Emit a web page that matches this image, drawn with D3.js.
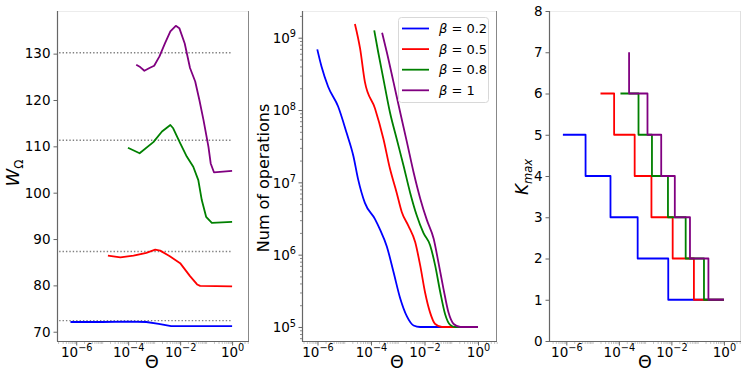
<!DOCTYPE html>
<html>
<head>
<meta charset="utf-8">
<script src="https://cdn.jsdelivr.net/npm/d3@7"></script>
<style>
body { margin: 0; background: #fff; }
text { font-family: "DejaVu Sans", sans-serif; fill: #000; }
</style>
</head>
<body>
<svg id="chart" width="748" height="385"></svg>
<script>
// series names / colours
var betaLabels = ["0.2", "0.5", "0.8", "1"];
var seriesColors = ["#0000ff", "#ff0000", "#008000", "#800080"];

// axis ticks
var thetaMajor = [1e-6, 1e-4, 1e-2, 1];
var wTicks = [70, 80, 90, 100, 110, 120, 130];
var opsMajor = [1e5, 1e6, 1e7, 1e8, 1e9];
var kTicks = [0, 1, 2, 3, 4, 5, 6, 7, 8];

// left panel: W_Omega vs Theta
var wTheta02 = [6.0e-7, 1e-5, 1e-4, 5e-4, 1.5e-3, 4.5e-3, 1];
var wValue02 = [72.1, 72.1, 72.2, 72.1, 71.7, 71.2, 71.2];
var wTheta05 = [1.66e-5, 5e-5, 1.6e-4, 5e-4, 1.1e-3, 1.7e-3, 4e-3, 1e-2, 2.4e-2, 4.5e-2, 5.9e-2, 1];
var wValue05 = [86.4, 86.05, 86.4, 87.0, 87.7, 87.5, 86.3, 84.8, 82.0, 80.2, 79.9, 79.8];
var wTheta08 = [9.8e-5, 2.75e-4, 9.3e-4, 2e-3, 4.2e-3, 5.4e-3, 1e-2, 1.8e-2, 3.2e-2, 5e-2, 6.8e-2, 0.1, 0.166, 1];
var wValue08 = [109.7, 108.5, 110.9, 113.2, 114.6, 113.9, 110.7, 107.8, 105.6, 102.7, 98.4, 94.8, 93.5, 93.7];
var wTheta10 = [2.04e-4, 2.9e-4, 4.2e-4, 6.6e-4, 1e-3, 1.6e-3, 2.6e-3, 4.2e-3, 6.8e-3, 9.3e-3, 1.5e-2, 2.4e-2, 3.8e-2, 5.5e-2, 7.9e-2, 0.123, 0.15, 0.2, 1];
var wValue10 = [127.6, 127.1, 126.3, 126.9, 127.4, 129.4, 132.2, 134.8, 136.0, 135.5, 132.2, 126.9, 124.0, 120.0, 115.7, 109.9, 106.3, 104.4, 104.7];
var wReference = [72.4, 87.3, 111.3, 130.2];
var wRefTheta = [2.2e-7, 1];

// middle panel: number of operations vs Theta
var opsTheta02 = [9.8e-7, 1.41e-6, 2.5e-6, 5.9e-6, 1.23e-5, 2.2e-5, 3.3e-5, 5.9e-5, 1.41e-4, 2.2e-4, 3.9e-4, 6.9e-4, 1.23e-3, 2.2e-3, 3.9e-3, 6.9e-3, 1];
var opsCount02 = [6.9e8, 4.0e8, 2.1e8, 1.12e8, 4.8e7, 2.3e7, 1.1e7, 5.2e6, 3.1e6, 2.2e6, 1.3e6, 5.8e5, 2.5e5, 1.4e5, 1.05e5, 1e5, 1e5];
var opsTheta05 = [2.5e-5, 3.9e-5, 5.9e-5, 1.41e-4, 2.9e-4, 5.1e-4, 9.1e-4, 1.41e-3, 2.5e-3, 4.5e-3, 6.9e-3, 1.05e-2, 1.62e-2, 2.5e-2, 4.5e-2, 1];
var opsCount05 = [1.55e9, 7.1e8, 2.45e8, 1.05e8, 4.0e7, 1.55e7, 7.2e6, 3.9e6, 2.5e6, 1.48e6, 7.1e5, 3.0e5, 1.58e5, 1.1e5, 1e5, 1e5];
var opsTheta08 = [1.32e-4, 1.86e-4, 2.9e-4, 5.1e-4, 9.1e-4, 1.62e-3, 2.9e-3, 5.1e-3, 9.1e-3, 1.62e-2, 2.5e-2, 3.9e-2, 5.9e-2, 9.1e-2, 0.141, 1];
var opsCount08 = [1.26e9, 6.3e8, 2.7e8, 9.3e7, 4.0e7, 1.74e7, 7.2e6, 3.5e6, 2.0e6, 1.35e6, 7.1e5, 3.0e5, 1.5e5, 1.07e5, 1e5, 1e5];
var opsTheta10 = [2.6e-4, 3.9e-4, 6.9e-4, 1.23e-3, 2.2e-3, 3.9e-3, 6.9e-3, 1.23e-2, 2.2e-2, 3.3e-2, 5.1e-2, 7.9e-2, 0.123, 0.22, 1];
var opsCount10 = [1.17e9, 6.3e8, 2.45e8, 9.3e7, 3.6e7, 1.38e7, 6.0e6, 3.0e6, 1.66e6, 7.9e5, 3.4e5, 1.58e5, 1.1e5, 1e5, 1e5];

// right panel: K_max step curves (level holds until the next theta)
var kTheta02 = [7.4e-7, 5.4e-6, 4.8e-5, 5.2e-4, 7.6e-3, 1];
var kLevel02 = [5, 4, 3, 2, 1, 1];
var kTheta05 = [2.0e-5, 6.6e-5, 4.0e-4, 1.74e-3, 1.12e-2, 7.2e-2, 1];
var kLevel05 = [6, 5, 4, 3, 2, 1, 1];
var kTheta08 = [1.15e-4, 5.6e-4, 1.82e-3, 7.4e-3, 3.5e-2, 0.174, 1];
var kLevel08 = [6, 5, 4, 3, 2, 1, 1];
var kTheta10 = [2.45e-4, 2.45e-4, 1.23e-3, 4.1e-3, 1.35e-2, 5.1e-2, 0.257, 1];
var kLevel10 = [7, 6, 5, 4, 3, 2, 1, 1];

var svg = d3.select("#chart");
var top0 = 11, bottom0 = 341;

function zip(xs, ys) {
    return xs.map(function(d, i) { return [d, ys[i]]; });
}

function minorTicks(lo, hi) {
    var out = [];
    for (var e = -8; e <= 10; e++) {
        for (var m = 1; m <= 9; m++) {
            var v = m * Math.pow(10, e);
            if (v >= lo && v <= hi) out.push(v);
        }
    }
    return out;
}

function powText(sel, exp, size) {
    sel.append("tspan").text("10");
    sel.append("tspan")
        .attr("dy", -size * 0.42)
        .attr("font-size", size * 0.72)
        .text(exp < 0 ? "\u2212" + (-exp) : "" + exp);
}

function spines(left, right, rightColor) {
    var g = svg.append("g");
    g.append("line").attr("x1", left).attr("x2", right).attr("y1", top0 + 0.5).attr("y2", top0 + 0.5)
        .attr("stroke", "#ececec");
    g.append("line").attr("x1", right - 0.5).attr("x2", right - 0.5).attr("y1", top0).attr("y2", bottom0)
        .attr("stroke", rightColor);
    g.append("line").attr("x1", left + 0.5).attr("x2", left + 0.5).attr("y1", top0).attr("y2", bottom0 + 0.5)
        .attr("stroke", "#666").attr("stroke-width", 1.2);
    g.append("line").attr("x1", left).attr("x2", right).attr("y1", bottom0 + 0.5).attr("y2", bottom0 + 0.5)
        .attr("stroke", "#666").attr("stroke-width", 1.2);
}

function thetaAxis(x, cx) {
    var dom = x.domain();
    var minor = minorTicks(dom[0], dom[1]).filter(function(v) { return thetaMajor.indexOf(v) < 0; });
    var gm = svg.append("g").attr("transform", "translate(0," + (bottom0 + 1) + ")")
        .call(d3.axisBottom(x).tickValues(minor).tickSize(2).tickFormat(""));
    gm.select(".domain").remove();
    gm.selectAll("line").attr("stroke", "#c8c8c8");

    var g = svg.append("g").attr("transform", "translate(0," + (bottom0 + 1) + ")")
        .call(d3.axisBottom(x).tickValues(thetaMajor).tickSize(3.5).tickFormat(""));
    g.select(".domain").remove();
    g.selectAll("line").attr("stroke", "#666");
    g.selectAll(".tick").append("text")
        .attr("y", 14.5)
        .attr("text-anchor", "middle")
        .attr("font-size", 13.5)
        .each(function(d) { powText(d3.select(this), Math.round(Math.log10(d)), 13.5); });

    svg.append("text")
        .attr("x", cx).attr("y", 368)
        .attr("text-anchor", "middle")
        .attr("font-size", 17.5)
        .text("\u0398");
}

function drawLine(x, y, pts, color, curve) {
    svg.append("path")
        .datum(pts)
        .attr("fill", "none")
        .attr("stroke", color)
        .attr("stroke-width", 1.8)
        .attr("stroke-linejoin", "round")
        .attr("d", d3.line()
            .x(function(d) { return x(d[0]); })
            .y(function(d) { return y(d[1]); })
            .curve(curve));
}

// ---------- left panel ----------
var xW = d3.scaleLog().domain([1.82e-7, 4.47]).range([57, 249]);
var yW = d3.scaleLinear().domain([68.0, 139.2]).range([bottom0, top0]);

spines(57, 249, "#888");
thetaAxis(xW, 152);

var gy = svg.append("g").attr("transform", "translate(57,0)")
    .call(d3.axisLeft(yW).tickValues(wTicks).tickSize(3.5).tickPadding(3));
gy.select(".domain").remove();
gy.selectAll("line").attr("stroke", "#666");
gy.selectAll("text").attr("font-size", 13.5).style("font-family", "DejaVu Sans");

svg.selectAll(".wref")
    .data(wReference)
    .enter()
    .append("line")
    .attr("class", "wref")
    .attr("x1", xW(wRefTheta[0]))
    .attr("x2", xW(wRefTheta[1]))
    .attr("y1", function(d) { return yW(d); })
    .attr("y2", function(d) { return yW(d); })
    .attr("stroke", "#808080")
    .attr("stroke-width", 1.4)
    .attr("stroke-dasharray", "1.4,2");

[[wTheta02, wValue02], [wTheta05, wValue05], [wTheta08, wValue08], [wTheta10, wValue10]]
    .forEach(function(s, i) {
        drawLine(xW, yW, zip(s[0], s[1]), seriesColors[i], d3.curveLinear);
    });

var wl = svg.append("text")
    .attr("transform", "translate(19,173) rotate(-90)")
    .attr("text-anchor", "middle")
    .attr("font-size", 18);
wl.append("tspan").attr("font-style", "italic").text("W");
wl.append("tspan").attr("dy", 4).attr("font-size", 12).text("\u03a9");

// ---------- middle panel ----------
var xO = d3.scaleLog().domain([2.63e-7, 5.13]).range([302, 497]);
var yO = d3.scaleLog().domain([6.4e4, 2.34e9]).range([bottom0, top0]);

spines(302, 497, "#888");
thetaAxis(xO, 397);

var gyo = svg.append("g").attr("transform", "translate(302,0)")
    .call(d3.axisLeft(yO).tickValues(minorTicks(6.4e4, 2.34e9).filter(function(v) { return opsMajor.indexOf(v) < 0; }))
        .tickSize(2).tickFormat(""));
gyo.select(".domain").remove();
gyo.selectAll("line").attr("stroke", "#888");

var gyO = svg.append("g").attr("transform", "translate(302,0)")
    .call(d3.axisLeft(yO).tickValues(opsMajor).tickSize(3.5).tickFormat(""));
gyO.select(".domain").remove();
gyO.selectAll("line").attr("stroke", "#666");
gyO.selectAll(".tick").append("text")
    .attr("x", -6)
    .attr("dy", "0.35em")
    .attr("text-anchor", "end")
    .attr("font-size", 13.5)
    .each(function(d) { powText(d3.select(this), Math.round(Math.log10(d)), 13.5); });

[[opsTheta02, opsCount02], [opsTheta05, opsCount05], [opsTheta08, opsCount08], [opsTheta10, opsCount10]]
    .forEach(function(s, i) {
        drawLine(xO, yO, zip(s[0], s[1]), seriesColors[i], d3.curveMonotoneX);
    });

svg.append("text")
    .attr("transform", "translate(269,178) rotate(-90)")
    .attr("text-anchor", "middle")
    .attr("font-size", 16)
    .text("Num of operations");

// legend
var legend = svg.append("g");
legend.append("rect")
    .attr("x", 398.5).attr("y", 17.5)
    .attr("width", 90).attr("height", 85)
    .attr("rx", 3)
    .attr("fill", "#fff").attr("fill-opacity", 0.85)
    .attr("stroke", "#d8d8d8");
var rows = legend.selectAll(".row")
    .data(betaLabels)
    .enter()
    .append("g")
    .attr("class", "row")
    .attr("transform", function(d, i) { return "translate(0," + (28.5 + i * 20.6) + ")"; });
rows.append("line")
    .attr("x1", 402).attr("x2", 429)
    .attr("stroke", function(d, i) { return seriesColors[i]; })
    .attr("stroke-width", 1.8);
var lt = rows.append("text")
    .attr("x", 439)
    .attr("dy", "0.36em")
    .attr("font-size", 13);
lt.append("tspan").attr("font-style", "italic").text("\u03b2");
lt.append("tspan").text(function(d) { return " = " + d; });

// ---------- right panel ----------
var xK = d3.scaleLog().domain([2.19e-7, 4.47]).range([549, 741]);
var yK = d3.scaleLinear().domain([0, 8]).range([bottom0, top0]);

spines(549, 741, "#e0e0e0");
thetaAxis(xK, 645);

var gyk = svg.append("g").attr("transform", "translate(549,0)")
    .call(d3.axisLeft(yK).tickValues(kTicks).tickSize(3.5).tickPadding(3));
gyk.select(".domain").remove();
gyk.selectAll("line").attr("stroke", "#666");
gyk.selectAll("text").attr("font-size", 13.5).style("font-family", "DejaVu Sans");

[[kTheta02, kLevel02], [kTheta05, kLevel05], [kTheta08, kLevel08], [kTheta10, kLevel10]]
    .forEach(function(s, i) {
        drawLine(xK, yK, zip(s[0], s[1]), seriesColors[i], d3.curveStepAfter);
    });

var kl = svg.append("text")
    .attr("transform", "translate(528,177) rotate(-90)")
    .attr("text-anchor", "middle")
    .attr("font-size", 17);
kl.append("tspan").attr("font-style", "italic").text("K");
kl.append("tspan").attr("dy", 4).attr("font-size", 11.5).attr("font-style", "italic").text("max");
</script>
</body>
</html>
